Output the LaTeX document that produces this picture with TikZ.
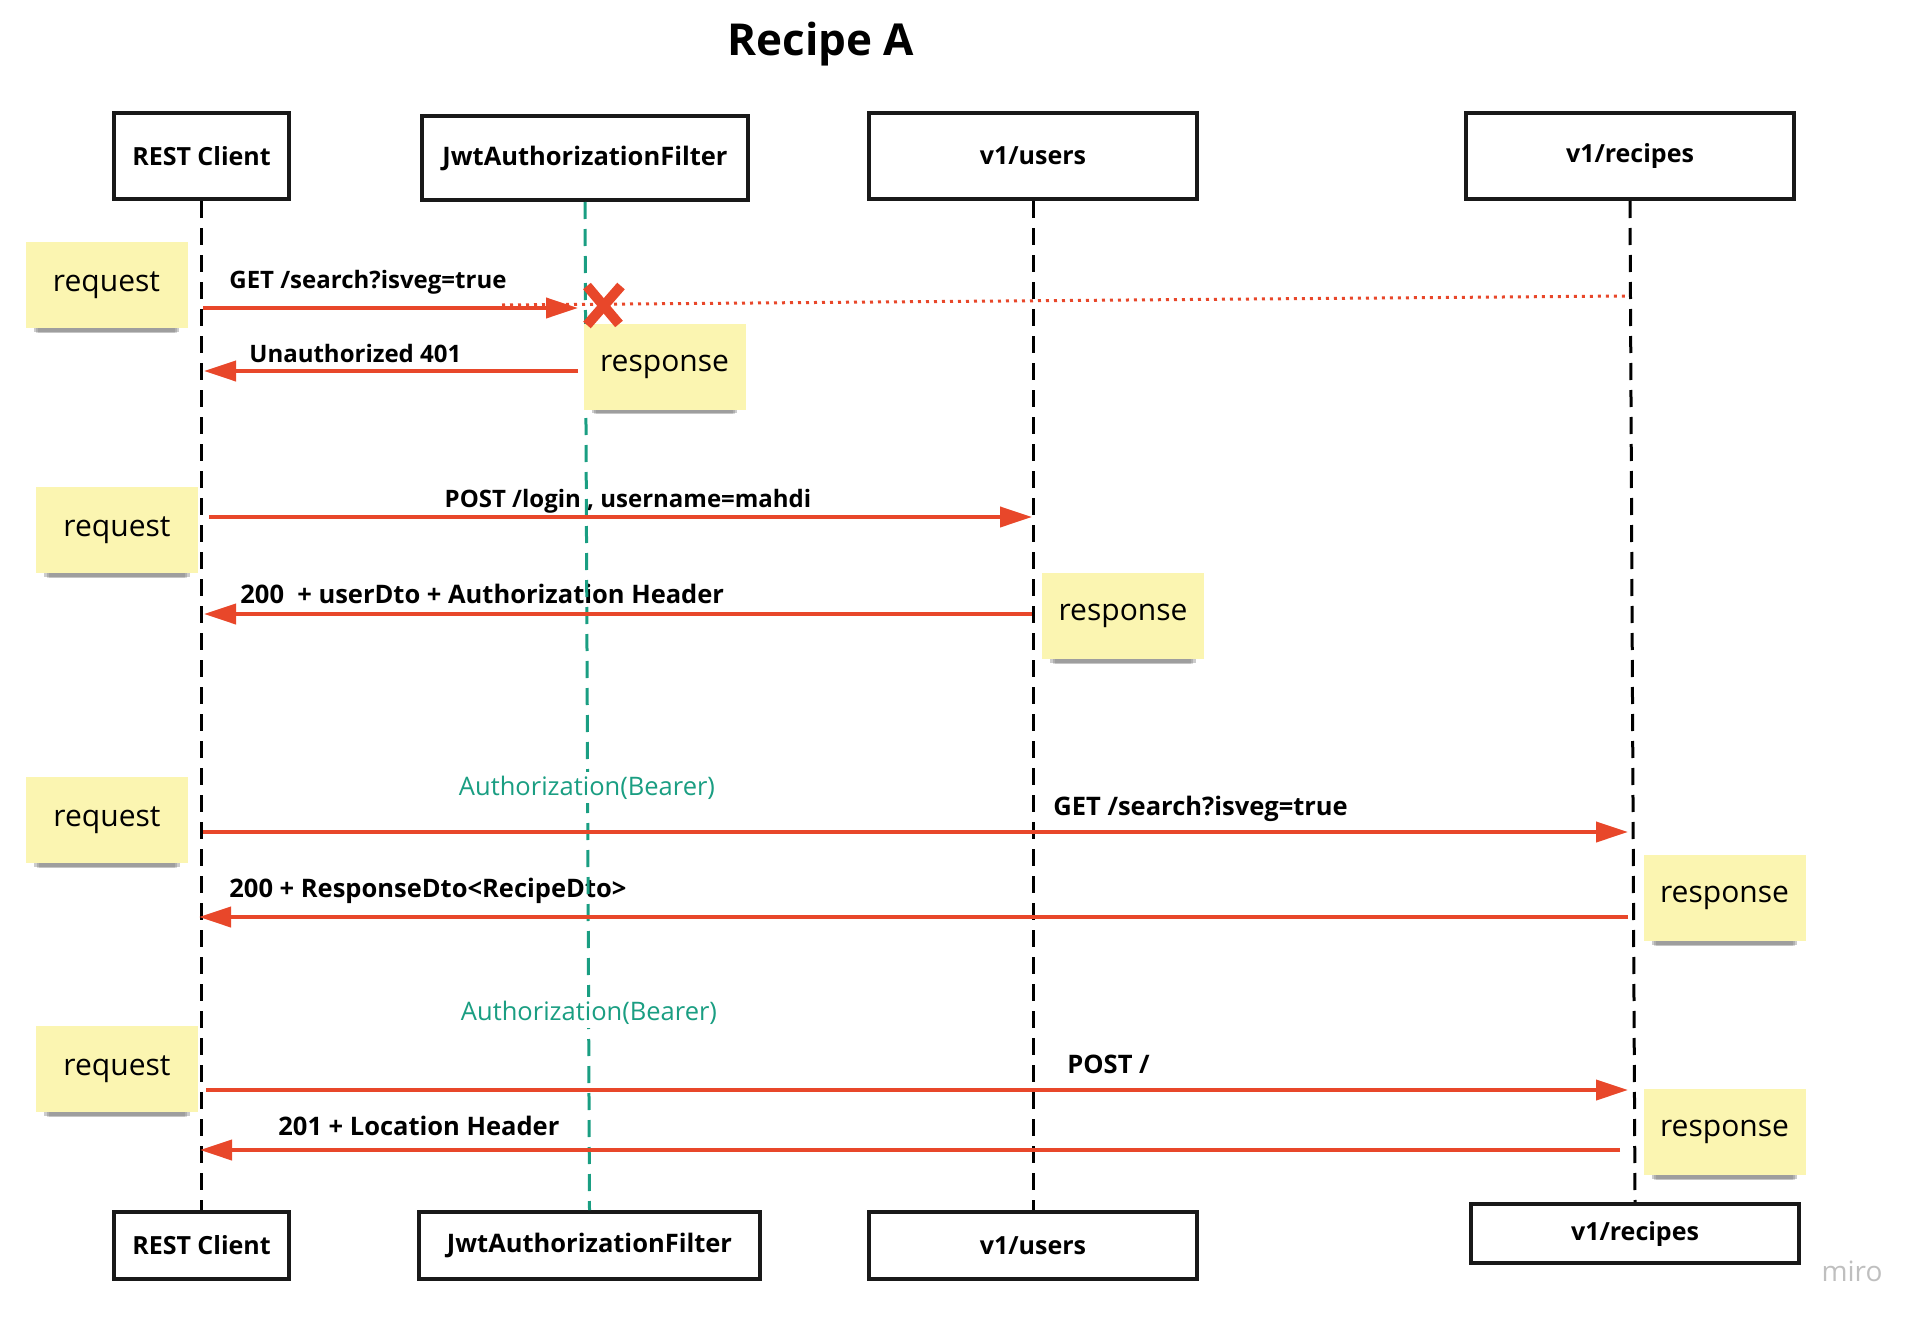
\documentclass[tikz,border=0pt]{standalone}
\usepackage{fontspec}
\setmainfont{Open Sans}
\usetikzlibrary{arrows.meta,shadows}
\definecolor{arr}{HTML}{E8472A}
\definecolor{jwtgreen}{HTML}{1A9E82}
\definecolor{stickyfill}{HTML}{FBF5B1}
\tikzset{
  actor/.style={draw=black!90, line width=2pt, fill=white, inner sep=0pt,
    font=\bfseries\fontsize{12.5}{15}\selectfont},
  life/.style={draw=black, line width=1.5pt, dash pattern=on 8.5pt off 5pt},
  lifeg/.style={draw=jwtgreen, line width=1.5pt, dash pattern=on 8.5pt off 5pt},
  msg/.style={draw=arr, line width=2pt, -{Triangle[length=16pt,width=10pt]}},
  lbl/.style={inner sep=0pt, font=\bfseries\fontsize{12}{14}\selectfont},
  lblb/.style={inner sep=0pt, font=\bfseries\fontsize{12.75}{15}\selectfont},
  glbl/.style={inner sep=2pt, fill=white, text=jwtgreen, font=\fontsize{12.75}{15}\selectfont},
  sticky/.style={fill=stickyfill, minimum width=81pt, minimum height=43pt, inner sep=0pt,
    font=\fontsize{15}{18}\selectfont,
    drop shadow={shadow xshift=0pt, shadow yshift=-7pt, shadow scale=0.84, opacity=0.10, fill=black},
    drop shadow={shadow xshift=0pt, shadow yshift=-6pt, shadow scale=0.87, opacity=0.14, fill=black},
    drop shadow={shadow xshift=0pt, shadow yshift=-4.5pt, shadow scale=0.9, opacity=0.2, fill=black}},
  xmark/.style={draw=arr, line width=5pt},
}
\begin{document}
\begin{tikzpicture}[x=0.5pt,y=-0.5pt]
\useasboundingbox (0,0) rectangle (1927,1327);
% title
\node[anchor=base, inner sep=0pt, font=\bfseries\fontsize{22}{26}\selectfont] (title) at (821,56) {Recipe A};
% top actors
\node[actor, minimum width=87.5pt, minimum height=43pt] (rc) at (201.5,156) {REST Client};
\node[actor, minimum width=163pt, minimum height=42pt, font=\bfseries\fontsize{12.75}{15}\selectfont] (jwt) at (585,158) {JwtAuthorizationFilter};
\node[actor, minimum width=164pt, minimum height=43pt] (users) at (1033,156) {v1/users};
\node[actor, minimum width=164pt, minimum height=43pt] (recipes) at (1630,156) {v1/recipes};
% bottom actors
\node[actor, minimum width=87.5pt, minimum height=33.5pt] (rcb) at (201.5,1245.5) {REST Client};
\node[actor, minimum width=170.5pt, minimum height=33.5pt, font=\bfseries\fontsize{12.75}{15}\selectfont] (jwtb) at (589.5,1245.5) {JwtAuthorizationFilter};
\node[actor, minimum width=164pt, minimum height=33.5pt] (usersb) at (1033,1245.5) {v1/users};
\node[actor, minimum width=164pt, minimum height=29.5pt] (recipesb) at (1635,1233.5) {v1/recipes};
% labels
\node[lbl, anchor=base west] (l1) at (229,288) {GET /search?isveg=true};
\node[lbl, anchor=base west] (l2) at (249,362) {Unauthorized 401};
\node[lbl, anchor=base] (l3) at (628,507) {POST /login , username=mahdi};
\node[lblb, anchor=base west] (l4) at (240,603) {200~~+ userDto + Authorization Header};
\node[lblb, anchor=base west] (l6) at (1053,815) {GET /search?isveg=true};
\node[lblb, anchor=base west] (l7) at (229,897) {200 + ResponseDto<RecipeDto>};
\node[lblb, anchor=base west] (l9) at (1067,1073) {POST /};
\node[lblb, anchor=base west] (l10) at (278,1135) {201 + Location Header};
% lifelines
\draw[life] (rc.south) -- (rcb.north);
\draw[lifeg] (jwt.south) -- (jwtb.north);
\draw[life] (users.south) -- (usersb.north);
\draw[life] (recipes.south) -- (recipesb.north);
% green labels
\node[glbl, anchor=base] (g1) at (587,795) {Authorization(Bearer)};
\node[glbl, anchor=base] (g2) at (589,1020) {Authorization(Bearer)};
% stickies
\node[sticky] (req1) at (106.5,285) {request};
\node[sticky] (resp1) at (664.5,366.5) {response};
\node[sticky] (req2) at (117,530) {request};
\node[sticky] (resp2) at (1123,616) {response};
\node[sticky] (req3) at (107,820) {request};
\node[sticky] (resp3) at (1724.5,898) {response};
\node[sticky] (req4) at (117,1069) {request};
\node[sticky] (resp4) at (1724.5,1132) {response};
% coordinates for messages
\coordinate (a1s) at (203,308);  \coordinate (a1e) at (578,308);
\coordinate (a2s) at (578,371);  \coordinate (a2e) at (204,371);
\coordinate (a3s) at (209,517);  \coordinate (a3e) at (1032,517);
\coordinate (a4s) at (1032,614); \coordinate (a4e) at (204,614);
\coordinate (a5s) at (203,832);  \coordinate (a5e) at (1628,832);
\coordinate (a6s) at (1628,917); \coordinate (a6e) at (199,917);
\coordinate (a7s) at (206,1090); \coordinate (a7e) at (1628,1090);
\coordinate (a8s) at (1620,1150); \coordinate (a8e) at (200,1150);
\coordinate (ds) at (502,305); \coordinate (de) at (1628,296);
% dotted blocked path
\draw[draw=arr, line width=1.5pt, dash pattern=on 1.5pt off 2.5pt] (ds) -- (de);
% messages
\draw[msg] (a1s) -- (a1e);
\draw[msg] (a2s) -- (a2e);
\draw[msg] (a3s) -- (a3e);
\draw[msg] (a4s) -- (a4e);
\draw[msg] (a5s) -- (a5e);
\draw[msg] (a6s) -- (a6e);
\draw[msg] (a7s) -- (a7e);
\draw[msg] (a8s) -- (a8e);
% red X
\coordinate (x1) at (587,286); \coordinate (x2) at (619,324);
\coordinate (x3) at (621,286); \coordinate (x4) at (587,325);
\draw[xmark] (x1) -- (x2);
\draw[xmark] (x3) -- (x4);
% watermark
\node[anchor=base, inner sep=0pt, text=black!25, font=\fontsize{14}{16}\selectfont] (miro) at (1852,1281) {miro};
\end{tikzpicture}
\end{document}
